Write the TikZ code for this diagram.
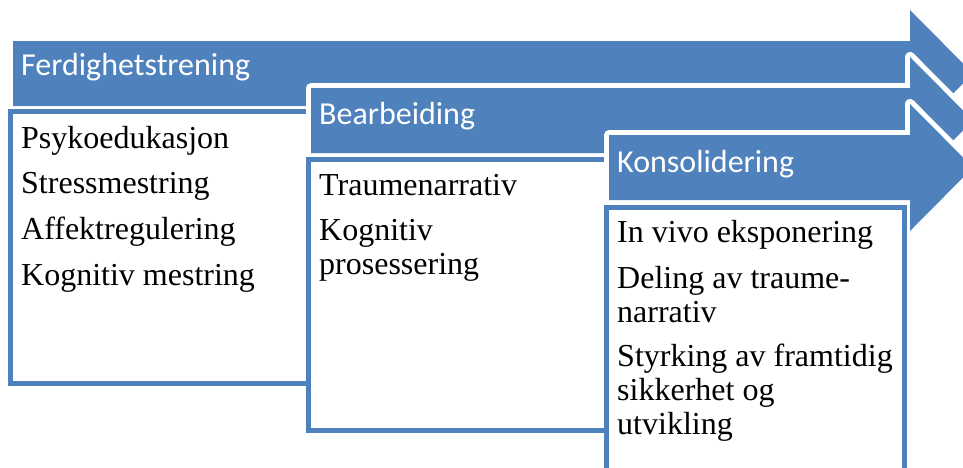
\documentclass[tikz,border=0pt]{standalone}
\usepackage{fontspec}
\setmainfont{Liberation Serif}
\newfontfamily\headfont{Carlito}
\usetikzlibrary{positioning}
\definecolor{fasebla}{HTML}{4F81BD}

\begin{document}
\begin{tikzpicture}[x=1pt, y=-1pt,
		pil/.style={fill=fasebla, preaction={draw=white, line width=10pt, line join=round}},
		boks/.style={fill=white, draw=fasebla, line width=5pt},
		overskrift/.style={font=\headfont\fontsize{32}{36}\selectfont, text=white, anchor=base west, inner sep=0pt},
		punkt/.style={font=\fontsize{32}{34}\selectfont, anchor=base west, align=left, inner sep=0pt}]
		
		\useasboundingbox (0,0) rectangle (963,467);
		
		% --- Fase 1: Ferdighetstrening
		\path[pil] (13,41) -- (910,41) -- (910,10) -- (973,73.5) -- (910,137) -- (910,106) -- (13,106) -- cycle;
		\node[overskrift] (ferd) at (21,75) {Ferdighetstrening};
		\draw[boks] (10.5,111) rectangle (330,383);
		\node[punkt] (psyk)   at (21,148)   {Psykoedukasjon};
		\node[punkt] (stress) at (21,193.5) {Stressmestring};
		\node[punkt] (affekt) at (21,239)   {Affektregulering};
		\node[punkt] (kogm)   at (21,285)   {Kognitiv mestring};
		
		% --- Fase 2: Bearbeiding
		\path[pil] (311,88) -- (910,88) -- (910,57) -- (973,120.5) -- (910,184) -- (910,153) -- (311,153) -- cycle;
		\node[overskrift] (bearb) at (319,124) {Bearbeiding};
		\draw[boks] (308.5,159.5) rectangle (630,430);
		\node[punkt] (narr) at (319,195) {Traumenarrativ};
		% base = siste linje
		\node[punkt] (kogp) at (319,274) {Kognitiv\\prosessering};
		
		% --- Fase 3: Konsolidering
		\path[pil] (609,135) -- (910,135) -- (910,104) -- (973,167.5) -- (910,231) -- (910,200) -- (609,200) -- cycle;
		\node[overskrift] (kons) at (617,172) {Konsolidering};
		\draw[boks] (606.5,207.5) rectangle (904.5,490);
		\node[punkt] (vivo)   at (617,242) {In vivo eksponering};
		\node[punkt] (deling) at (617,322) {Deling av traume-\\narrativ};
		\node[punkt] (styrk)  at (617,434) {Styrking av framtidig\\sikkerhet og\\utvikling};
		
	\end{tikzpicture}
\end{document}
